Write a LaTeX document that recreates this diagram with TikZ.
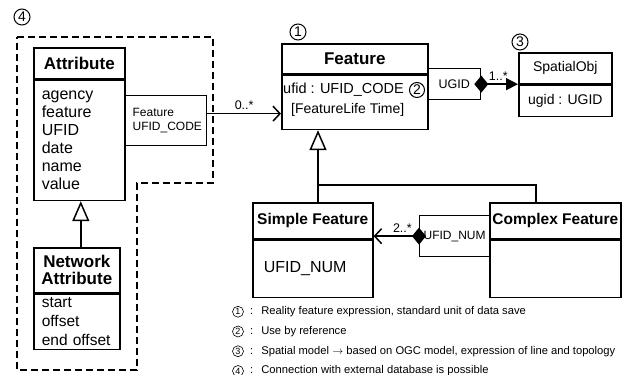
\documentclass[tikz,border=0pt]{standalone}
\usepackage{fontspec}
\setmainfont{Liberation Sans}
\usetikzlibrary{arrows.meta}

\begin{document}
\begin{tikzpicture}[x=1pt, y=-1pt,
        box/.style = {draw, line width=1.6pt, inner sep=0pt, anchor=north west},
        head/.style = {box, align=center, font=\fontsize{17}{17}\selectfont\bfseries},
        list/.style = {box, align=left, inner xsep=8pt, font=\fontsize{16}{18}\selectfont},
        tag/.style = {box, line width=1.3pt, font=\fontsize{12}{14}\selectfont},
        txt/.style = {inner sep=0pt, anchor=west},
        num/.style = {circle, draw, line width=1pt, inner sep=0pt, minimum size=16pt, font=\fontsize{14}{14}\selectfont},
        mult/.style = {above, inner sep=3pt, font=\fontsize{12.5}{14}\selectfont},
        note/.style = {inner sep=0pt, anchor=west, font=\fontsize{11.2}{13}\selectfont},
        arrow/.style = {line width=1.5pt, -{Straight Barb[length=7pt, width=15pt, line width=1.5pt]}},
        inherit/.style = {line width=1.5pt, -{Triangle[open, length=20pt, width=17pt, line width=1.5pt]}},
        group/.style = {line width=1.4pt, dash pattern=on 7pt off 4pt}]

    \useasboundingbox (0,0) rectangle (625,375);

    % external database part
    \draw[group] (17,37) -- (213,37) -- (213,183) -- (137,183) -- (137,370) -- (17,370) -- cycle;
    \node[num] (n4) at (22,17) {4};

    \node[head, minimum width=91pt, minimum height=31pt] (attr) at (33,47) {Attribute};
    \node[list, text width=75pt, minimum height=120pt] (attrlist) at (attr.south west) {agency\\feature\\UFID\\date\\name\\value};
    \node[tag, align=left, inner xsep=8pt, text width=66pt, minimum height=50pt] (code) at (124,95) {Feature\\UFID\_CODE};

    \node[head, minimum width=86pt, minimum height=45pt] (net) at (33,247) {Network\\Attribute};
    \node[list, inner xsep=8pt, text width=70pt, minimum height=55pt, font=\fontsize{15.5}{19}\selectfont] (netlist) at (net.south west) {start\\offset\\\mbox{end offset}};
    \draw[inherit] ([xshift=4pt]net.north) -- ([xshift=4pt]net.north |- attrlist.south);

    % feature
    \node[head, minimum width=146pt, minimum height=30pt] (feat) at (281,43) {Feature};
    \node[box, minimum width=146pt, minimum height=54pt] (featbody) at (feat.south west) {};
    \node[txt, font=\fontsize{14.5}{15}\selectfont] (ufid) at (283,90) {ufid : UFID\_CODE};
    \node[txt, font=\fontsize{14}{14}\selectfont] (life) at (291,110) {[FeatureLife Time]};
    \node[num, minimum size=15pt] (n2) at (417,90) {2};
    \node[num] (n1) at (298,32) {1};

    \draw[arrow] ([yshift=7pt]code.east) -- ([yshift=7pt]code.east -| featbody.west) node[mult, pos=0.5] {0..*};

    % spatial object
    \node[tag, minimum width=53pt, minimum height=31pt, font=\fontsize{12.5}{14}\selectfont] (ugid) at (427,68) {UGID};
    \node[box, minimum width=93pt, minimum height=31pt, font=\fontsize{14}{16}\selectfont] (spatial) at (518,52) {SpatialObj};
    \node[box, minimum width=93pt, minimum height=31pt, font=\fontsize{14}{16}\selectfont] (spatialbody) at (spatial.south west) {ugid : UGID};
    \node[num] (n3) at (520,42) {3};

    \draw[line width=1.5pt, {Diamond[length=14pt, width=17pt]}-{Triangle[length=12pt, width=12pt]}]
        ([xshift=-7pt]ugid.east) -- (ugid.east -| spatialbody.west) node[mult, pos=0.55] {1..*};

    % simple and complex features
    \node[head, font=\fontsize{15.5}{17}\selectfont\bfseries, minimum width=120pt, minimum height=36pt] (simple) at (252,202) {Simple Feature};
    \node[box, align=left, inner xsep=11pt, text width=98pt, minimum height=57pt, font=\fontsize{16}{18}\selectfont] (simplebody) at (simple.south west) {UFID\_NUM};
    \node[head, font=\fontsize{15.5}{17}\selectfont\bfseries, minimum width=131pt, minimum height=36pt] (complex) at (489,202) {Complex Feature};
    \node[box, minimum width=131pt, minimum height=57pt] (complexbody) at (complex.south west) {};
    \node[tag, minimum width=70pt, minimum height=41pt] (ufidnum) at (419,215) {UFID\_NUM};

    \coordinate (split) at (318,185);
    \draw[inherit] (split |- simple.north) -- (split |- featbody.south);
    \draw[line width=1.5pt] (split) -| ([xshift=-19.5pt]complex.north);

    \draw[line width=1.5pt, {Diamond[length=14pt, width=17pt]}-{Straight Barb[length=7pt, width=15pt, line width=1.5pt]}]
        ([xshift=7pt]ufidnum.west) -- (ufidnum.west -| simplebody.east) node[mult, pos=0.45] {2..*};

    % legend
    \foreach \i/\txt in {1/{Reality feature expression, standard unit of data save},
                         2/{Use by reference},
                         3/{Spatial model \(\rightarrow\) based on OGC model, expression of line and topology},
                         4/{Connection with external database is possible}} {
        \node[num, minimum size=11pt, line width=0.6pt, font=\fontsize{9}{9}\selectfont] (key\i) at (238,292+19.75*\i) {\i};
        \node[note] (keytext\i) at (250,292+19.75*\i) {:\hspace{8pt}\txt};
    }
\end{tikzpicture}
\end{document}
